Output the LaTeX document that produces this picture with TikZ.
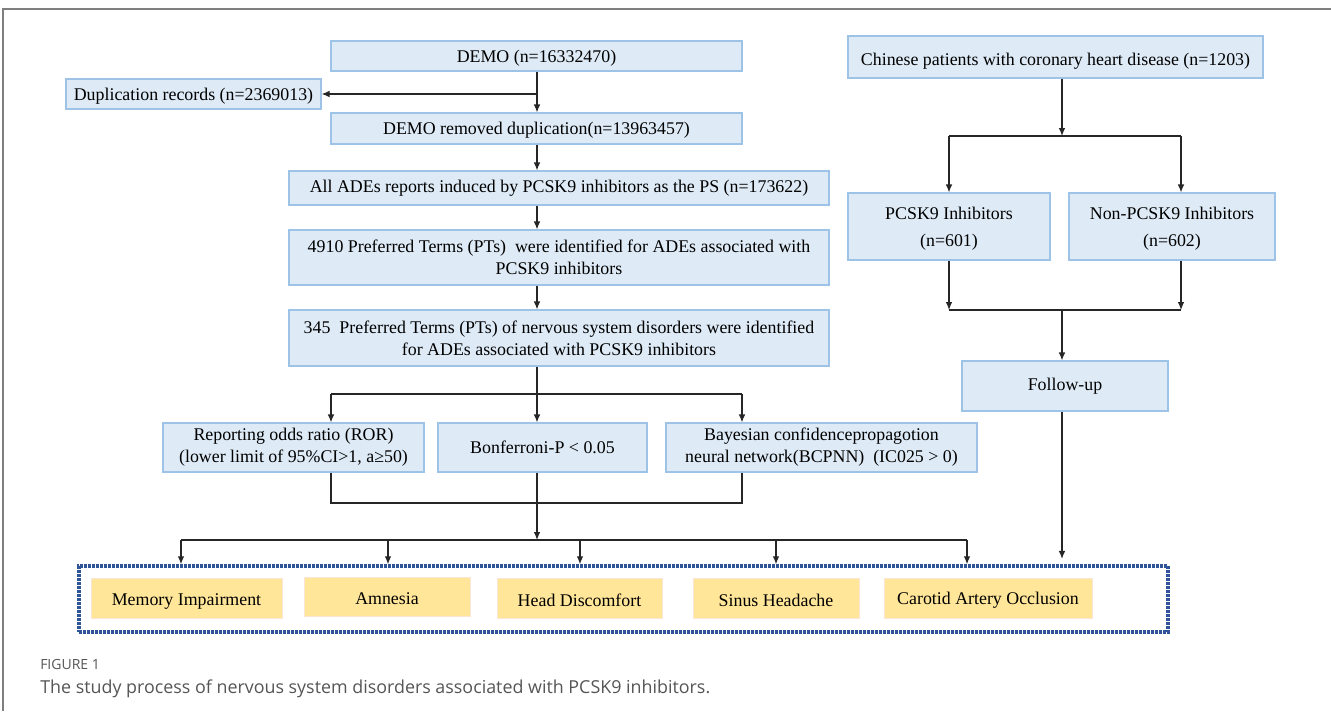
\documentclass[tikz,border=0pt]{standalone}
\usepackage{fontspec}
\setmainfont{Liberation Serif}
\newfontfamily\capfont{Open Sans}
\usetikzlibrary{arrows.meta}
\definecolor{boxfill}{HTML}{DEEBF7}
\definecolor{boxline}{HTML}{9DC3E6}
\definecolor{yelfill}{HTML}{FFE699}
\definecolor{yelline}{HTML}{FBE5D6}
\definecolor{dotblue}{HTML}{2F5597}
\definecolor{framegray}{HTML}{7F7F7F}
\definecolor{capgray}{HTML}{555555}
\newcommand{\lowr}[2]{\raisebox{-#1}[\height][\depth]{#2}}
\tikzset{
  bluebox/.style={draw=boxline, fill=boxfill, line width=0.9pt, inner sep=2pt, align=center,
    font=\fontsize{13.4}{16.5}\selectfont},
  yelbox/.style={draw=yelline, fill=yelfill, line width=0.6pt, inner sep=2pt, align=center,
    font=\fontsize{13.4}{16.5}\selectfont},
  conn/.style={line width=0.9pt, draw=black!85},
  arr/.style={conn, -{Latex[length=6pt,width=5pt]}},
}
\begin{document}
\begin{tikzpicture}[x=0.75pt,y=-0.75pt]
\useasboundingbox (0,0) rectangle (1331,711);
% frame
\draw[framegray, line width=1.1pt] (3,711) -- (3,9) -- (1331,9);

% left column
\node[bluebox, minimum width=411*0.75pt, minimum height=30*0.75pt] (demo) at (536.5,56) {\lowr{1.5pt}{DEMO (n=16332470)}};
\node[bluebox, minimum width=255*0.75pt, minimum height=30*0.75pt] (dup) at (193.5,94) {\lowr{1.5pt}{Duplication records (n=2369013)}};
\node[bluebox, minimum width=411*0.75pt, minimum height=31*0.75pt] (demorem) at (536.5,128.5) {\lowr{1.5pt}{DEMO removed duplication(n=13963457)}};
\node[bluebox, minimum width=540*0.75pt, minimum height=34*0.75pt] (all) at (559,188) {All ADEs reports induced by PCSK9 inhibitors as the PS (n=173622)};
\node[bluebox, minimum width=540*0.75pt, minimum height=55*0.75pt] (pt4910) at (559,257.5) {4910 Preferred Terms (PTs)\ \ were identified for ADEs associated with\\PCSK9 inhibitors};
\node[bluebox, minimum width=540*0.75pt, minimum height=56*0.75pt] (pt345) at (559,338) {345\ \ Preferred Terms (PTs) of nervous system disorders were identified\\for ADEs associated with PCSK9 inhibitors};
\node[bluebox, minimum width=261*0.75pt, minimum height=49*0.75pt] (ror) at (293.5,447.5) {Reporting odds ratio (ROR)\\(lower limit of 95\%CI>1, a≥50)};
\node[bluebox, minimum width=209*0.75pt, minimum height=49*0.75pt] (bonf) at (542.5,447.5) {Bonferroni-P < 0.05};
\node[bluebox, minimum width=311*0.75pt, minimum height=49*0.75pt] (bayes) at (821.5,447.5) {Bayesian confidencepropagotion\\neural network(BCPNN)\ \ (IC025 > 0)};

% right column
\node[bluebox, minimum width=415*0.75pt, minimum height=42*0.75pt] (chinese) at (1055.5,57) {\lowr{3.5pt}{Chinese patients with coronary heart disease (n=1203)}};
\node[bluebox, minimum width=202*0.75pt, minimum height=67*0.75pt] (pcsk) at (949,226.5) {\lowr{1.5pt}{\shortstack{PCSK9 Inhibitors\\[8pt](n=601)}}};
\node[bluebox, minimum width=206*0.75pt, minimum height=67*0.75pt] (nonp) at (1172,226.5) {\lowr{1.5pt}{\shortstack{Non-PCSK9 Inhibitors\\[8pt](n=602)}}};
\node[bluebox, minimum width=206*0.75pt, minimum height=50*0.75pt] (follow) at (1065,386) {Follow-up};

% outcome box
\node[draw=dotblue, line width=2.6pt, dash pattern=on 2pt off 1pt, minimum width=1089*0.75pt, minimum height=66*0.75pt, inner sep=0pt] (outbox) at (623.5,599) {};
\node[yelbox, minimum width=191*0.75pt, minimum height=40*0.75pt] (mem) at (186.5,598) {\lowr{3pt}{Memory Impairment}};
\node[yelbox, minimum width=166*0.75pt, minimum height=39*0.75pt] (amn) at (387,596.5) {\lowr{1.5pt}{Amnesia}};
\node[yelbox, minimum width=165*0.75pt, minimum height=40*0.75pt] (head) at (579.5,598) {\lowr{1.5pt}{Head Discomfort}};
\node[yelbox, minimum width=166*0.75pt, minimum height=40*0.75pt] (sinus) at (776,598) {\lowr{2pt}{Sinus Headache}};
\node[yelbox, minimum width=208*0.75pt, minimum height=40*0.75pt] (carot) at (988,598) {\lowr{2pt}{Carotid Artery Occlusion}};

% left connectors
\coordinate (j1) at (537,94);
\draw[arr] (demo.south -| j1) -- (demorem.north -| j1);
\draw[arr] (j1) -- (dup.east);
\draw[arr] (demorem.south -| j1) -- (all.north -| j1);
\draw[arr] (all.south -| j1) -- (pt4910.north -| j1);
\draw[arr] (pt4910.south -| j1) -- (pt345.north -| j1);
\coordinate (b1) at (537,394);
\coordinate (bl) at (331,394);
\coordinate (br) at (742,394);
\draw[conn] (pt345.south -| b1) -- (b1);
\draw[conn] (bl) -- (br);
\draw[arr] (bl) -- (ror.north -| bl);
\draw[arr] (b1) -- (bonf.north -| b1);
\draw[arr] (br) -- (bayes.north -| br);
\coordinate (m1) at (331,503);
\coordinate (m2) at (742,503);
\draw[conn] (ror.south -| m1) -- (m1) -- (m2) -- (bayes.south -| m2);
\coordinate (h0) at (537,540);
\coordinate (hl) at (181,540);
\coordinate (hr) at (967,540);
\draw[arr] (bonf.south -| h0) -- (h0);
\draw[conn] (hl) -- (hr);
\foreach \xx in {181,388,580,776,967} {
  \draw[arr] (\xx,540) -- (outbox.north -| \xx,0);
}

% right connectors
\coordinate (r1) at (1062,136);
\coordinate (rl) at (949,136);
\coordinate (rr) at (1181,136);
\draw[arr] (chinese.south -| r1) -- (r1);
\draw[conn] (rl) -- (rr);
\draw[arr] (rl) -- (pcsk.north -| rl);
\draw[arr] (rr) -- (nonp.north -| rr);
\coordinate (s1) at (1062,310);
\coordinate (sl) at (949,310);
\coordinate (sr) at (1181,310);
\draw[arr] (pcsk.south -| sl) -- (sl);
\draw[arr] (nonp.south -| sr) -- (sr);
\draw[conn] (sl) -- (sr);
\draw[arr] (s1) -- (follow.north -| s1);
\draw[arr] (follow.south -| s1) -- ([yshift=4pt]outbox.north -| s1);

% caption
\node[anchor=base west, inner sep=0pt, text=capgray, font=\capfont\fontsize{10.5}{12}\selectfont] (figlab) at (40,669) {FIGURE 1};
\node[anchor=base west, inner sep=0pt, text=capgray, font=\capfont\fontsize{13.4}{16}\selectfont] (captxt) at (40,693) {The study process of nervous system disorders associated with PCSK9 inhibitors.};
\end{tikzpicture}
\end{document}
